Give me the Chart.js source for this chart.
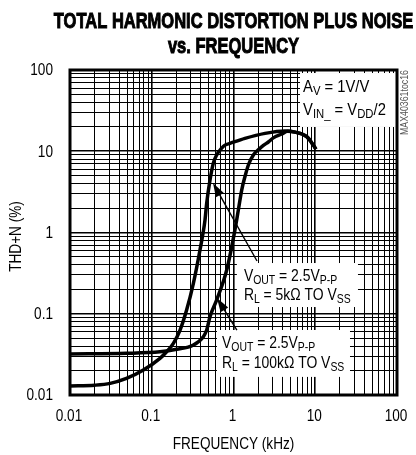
<!DOCTYPE html>
<html>
<head>
<meta charset="utf-8">
<script src="https://cdn.jsdelivr.net/npm/chart.js@4.4.0/dist/chart.umd.min.js"></script>
<style>
  html, body { margin: 0; padding: 0; background: #fff; }
</style>
</head>
<body>
<canvas id="chart" width="416" height="455"></canvas>
<script>
// THD+N vs frequency, two load conditions
const freq5k = [0.01, 0.02, 0.031, 0.049, 0.079, 0.126, 0.152, 0.184, 0.222, 0.267, 0.323, 0.389, 0.448, 0.47, 0.516, 0.566, 0.623, 0.717, 0.787, 0.906, 1.38, 2.43, 4.27, 5.65, 7.86, 9.47, 10.2];
const thd5k = [0.0129, 0.0132, 0.0139, 0.016, 0.0203, 0.0283, 0.0341, 0.0432, 0.063, 0.111, 0.237, 0.61, 1.42, 2.3, 4.43, 7.1, 9.0, 10.9, 11.9, 12.5, 14.4, 16.6, 17.8, 17.2, 15.1, 11.9, 10.6];

const freq100k = [0.01, 0.049, 0.126, 0.202, 0.323, 0.428, 0.47, 0.516, 0.623, 0.826, 1.04, 1.146, 1.26, 1.38, 1.52, 1.75, 2.01, 2.32, 2.67, 3.07, 3.89, 4.6, 5.65, 7.86, 9.47, 10.2];
const thd100k = [0.032, 0.0326, 0.034, 0.0365, 0.0412, 0.0522, 0.063, 0.092, 0.148, 0.345, 1.07, 1.89, 3.33, 4.86, 6.77, 9.0, 10.4, 11.8, 13.0, 14.6, 16.3, 17.6, 17.2, 15.1, 11.9, 10.6];

// axis ticks: decades get a label, 2..9 only a grid line
const xDecades = [0.01, 0.1, 1, 10, 100];
const xTickLabels = ['0.01', '0.1', '1', '10', '100'];
const yDecades = [0.01, 0.1, 1, 10, 100];
const yTickLabels = ['0.01', '0.1', '1', '10', '100'];
const minorSteps = [1, 2, 3, 4, 5, 6, 7, 8, 9];

const SANS = '"Liberation Sans", Arial, sans-serif';
const NARROW_K = 0.85; // squeeze to mimic a narrow face

function gridTicks(decades) {
  const out = [];
  decades.slice(0, -1).forEach(d => minorSteps.forEach(m => out.push(+(d * m).toPrecision(3))));
  out.push(decades[decades.length - 1]);
  return out.map(v => ({ value: v }));
}

function labelFor(decades, labels) {
  return v => {
    const i = decades.findIndex(d => Math.abs(d - v) / d < 1e-6);
    return i >= 0 ? labels[i] : '';
  };
}

function isDecade(v) {
  return Math.abs(Math.log10(v) - Math.round(Math.log10(v))) < 1e-6;
}

// callout boxes, placed in data space: [fLeft, fRight, vTop, vBottom]
const notes = [
  { box: [6.51, 100, 91.8, 19.9], pad: 3, size: 17, base: [19, 42],
    lines: ['A_{V} = 1V/V', 'V_{IN_} = V_{DD}/2'] },
  { box: [1.10, 33.3, 0.421, 0.121], pad: 7, size: 16, base: [18, 37],
    lines: ['V_{OUT} = 2.5V_{P-P}', 'R_{L} = 5k\u03A9 TO V_{SS}'] },
  { box: [0.628, 26.6, 0.0631, 0.0167], pad: 5, size: 16, base: [18, 38],
    lines: ['V_{OUT} = 2.5V_{P-P}', 'R_{L} = 100k\u03A9 TO V_{SS}'] }
];
// arrows: [tipF, tipV, tailF, tailV]
const arrows = [
  [0.561, 4.07, 1.94, 0.446],
  [0.628, 0.156, 1.1, 0.063]
];

function narrow(ctx, str, x, y, size, align, k) {
  ctx.save();
  ctx.font = size + 'px ' + SANS;
  ctx.textAlign = align;
  ctx.translate(x, y);
  ctx.scale(k || NARROW_K, 1);
  ctx.fillText(str, 0, 0);
  ctx.restore();
}

function drawRich(ctx, str, x, y, size) {
  const parts = str.split(/_\{([^}]*)\}/);
  ctx.save();
  ctx.translate(x, y);
  ctx.scale(0.87, 1);
  let cx = 0;
  parts.forEach((p, i) => {
    if (!p) return;
    const sub = i % 2 === 1;
    ctx.font = (sub ? Math.round(size * 0.78) : size) + 'px ' + SANS;
    ctx.fillText(p, cx, sub ? 3 : 0);
    cx += ctx.measureText(p).width;
  });
  ctx.restore();
}

const calloutPlugin = {
  id: 'callouts',
  beforeDatasetsDraw(chart) {
    const { ctx, scales: { x, y } } = chart;
    ctx.save();
    ctx.fillStyle = '#fff';
    notes.forEach(n => {
      const l = x.getPixelForValue(n.box[0]), r = x.getPixelForValue(n.box[1]);
      const t = y.getPixelForValue(n.box[2]), b = y.getPixelForValue(n.box[3]);
      ctx.fillRect(l, t, r - l, b - t);
    });
    ctx.restore();
  },
  afterDatasetsDraw(chart) {
    const { ctx, scales: { x, y }, chartArea: ca } = chart;
    ctx.save();
    ctx.fillStyle = '#000';
    ctx.textBaseline = 'alphabetic';
    notes.forEach(n => {
      const l = x.getPixelForValue(n.box[0]);
      const t = y.getPixelForValue(n.box[2]);
      n.lines.forEach((line, i) => drawRich(ctx, line, l + n.pad, t + n.base[i], n.size));
    });

    // arrows
    ctx.strokeStyle = '#000';
    ctx.lineWidth = 1.4;
    arrows.forEach(a => {
      const tx = x.getPixelForValue(a[0]), ty = y.getPixelForValue(a[1]);
      const sx = x.getPixelForValue(a[2]), sy = y.getPixelForValue(a[3]);
      const ang = Math.atan2(ty - sy, tx - sx);
      ctx.beginPath();
      ctx.moveTo(sx, sy);
      ctx.lineTo(tx - 8 * Math.cos(ang), ty - 8 * Math.sin(ang));
      ctx.stroke();
      ctx.beginPath();
      ctx.moveTo(tx, ty);
      ctx.lineTo(tx - 14 * Math.cos(ang) + 4.5 * Math.sin(ang), ty - 14 * Math.sin(ang) - 4.5 * Math.cos(ang));
      ctx.lineTo(tx - 14 * Math.cos(ang) - 4.5 * Math.sin(ang), ty - 14 * Math.sin(ang) + 4.5 * Math.cos(ang));
      ctx.closePath();
      ctx.fill();
    });

    // heavy frame
    ctx.lineWidth = 3;
    ctx.strokeRect(ca.left, ca.top, ca.right - ca.left, ca.bottom - ca.top);

    // tick labels, taken from the scales' own ticks
    ctx.textBaseline = 'middle';
    x.ticks.forEach(t => {
      if (t.label) narrow(ctx, t.label, x.getPixelForValue(t.value) - 1, ca.bottom + 22, 16, 'center');
    });
    y.ticks.forEach(t => {
      if (t.label) narrow(ctx, t.label, ca.left - 17, y.getPixelForValue(t.value) + 1, 16, 'right');
    });

    // axis titles
    narrow(ctx, 'FREQUENCY (kHz)', (ca.left + ca.right) / 2, 445, 16, 'center');
    ctx.save();
    ctx.translate(17, (ca.top + ca.bottom) / 2 + 4);
    ctx.rotate(-Math.PI / 2);
    narrow(ctx, 'THD+N (%)', 0, 0, 16, 'center');
    ctx.restore();

    // title, condensed bold
    ctx.textBaseline = 'alphabetic';
    ctx.textAlign = 'center';
    ctx.font = 'bold 22px ' + SANS;
    const cx = (ca.left + ca.right) / 2;
    [['TOTAL HARMONIC DISTORTION PLUS NOISE', 28], ['vs. FREQUENCY', 53]].forEach(([txt, by]) => {
      ctx.save();
      ctx.translate(cx, by);
      ctx.scale(0.75, 1);
      ctx.lineWidth = 1;
      ctx.fillText(txt, 0, 0);
      ctx.strokeText(txt, 0, 0);
      ctx.restore();
    });

    // part number tag
    ctx.save();
    ctx.translate(ca.right + 8, ca.top);
    ctx.rotate(-Math.PI / 2);
    ctx.textBaseline = 'middle';
    ctx.fillStyle = '#555';
    narrow(ctx, 'MAX40361toc16', 0, 0, 11, 'right', 0.8);
    ctx.restore();
    ctx.restore();
  }
};

new Chart(document.getElementById('chart'), {
  type: 'line',
  data: {
    datasets: [
      { label: 'RL = 5k\u03A9', data: freq5k.map((f, i) => ({ x: f, y: thd5k[i] })) },
      { label: 'RL = 100k\u03A9', data: freq100k.map((f, i) => ({ x: f, y: thd100k[i] })) }
    ]
  },
  options: {
    responsive: false,
    animation: false,
    events: [],
    layout: { padding: { top: 70, right: 19, left: 0, bottom: 0 } },
    elements: {
      line: { borderColor: '#000', borderWidth: 3.5, cubicInterpolationMode: 'monotone', fill: false },
      point: { radius: 0 }
    },
    plugins: { legend: { display: false }, tooltip: { enabled: false } },
    scales: {
      x: {
        type: 'logarithmic',
        min: 0.01,
        max: 100,
        afterBuildTicks: axis => { axis.ticks = gridTicks(xDecades); },
        afterFit: scale => { scale.height = 60; },
        grid: {
          color: '#000',
          lineWidth: c => (isDecade(c.tick.value) ? 1.6 : 1),
          drawTicks: false
        },
        border: { display: false },
        ticks: {
          autoSkip: false,
          maxRotation: 0,
          color: 'rgba(0,0,0,0)',
          callback: labelFor(xDecades, xTickLabels)
        }
      },
      y: {
        type: 'logarithmic',
        min: 0.01,
        max: 100,
        afterBuildTicks: axis => { axis.ticks = gridTicks(yDecades); },
        afterFit: scale => { scale.width = 70; },
        grid: {
          color: '#000',
          lineWidth: c => (isDecade(c.tick.value) ? 1.6 : 1),
          drawTicks: false
        },
        border: { display: false },
        ticks: {
          autoSkip: false,
          color: 'rgba(0,0,0,0)',
          callback: labelFor(yDecades, yTickLabels)
        }
      }
    }
  },
  plugins: [calloutPlugin]
});
</script>
</body>
</html>
